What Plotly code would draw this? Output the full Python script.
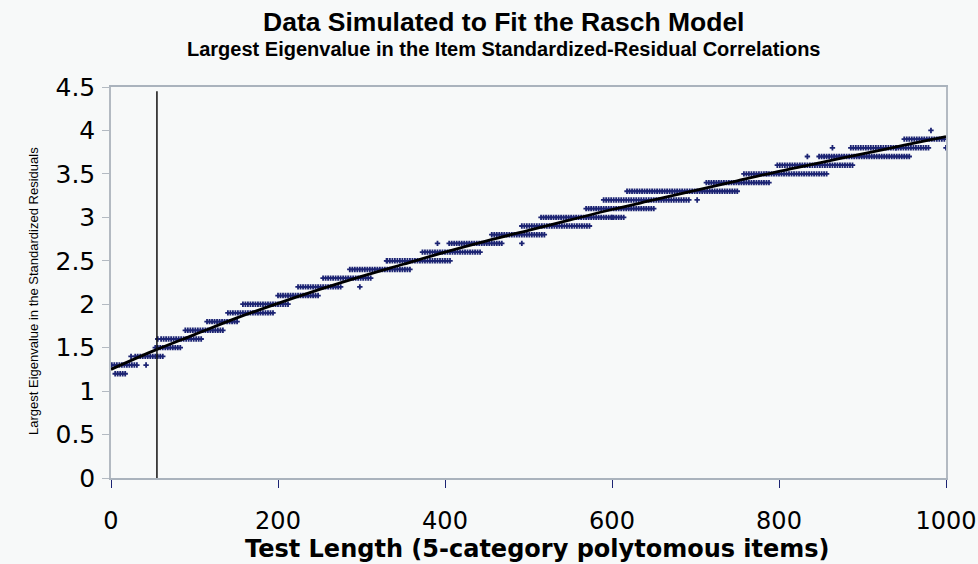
import numpy as np
import plotly.graph_objects as go

# Fitted curve
fit_x = [0, 50, 100, 150, 200, 250, 300, 350, 400, 450, 500, 550, 600, 650, 700, 750, 800, 850, 900, 950, 1000]
fit_y = [1.25, 1.46, 1.65, 1.84, 2.01, 2.17, 2.32, 2.46, 2.60, 2.73, 2.85, 2.97, 3.09, 3.20, 3.31, 3.42, 3.53, 3.63, 3.73, 3.83, 3.93]

# Simulated points (values rounded to 0.1): runs of points per level
band_y  = [1.2, 1.3, 1.4, 1.5, 1.6, 1.7, 1.8, 1.9, 2.0, 2.1, 2.2, 2.3, 2.4, 2.5, 2.6, 2.7, 2.8, 2.9, 3.0, 3.1, 3.2, 3.3, 3.4, 3.5, 3.6, 3.7, 3.8, 3.9]
band_x0 = [5,   1,   29,  53,  60,  89,  115, 140, 158, 200, 224, 254, 286, 331, 373, 405, 456, 492, 515, 569, 590, 618, 713, 758, 798, 848, 886, 950]
band_x1 = [19,  33,  62,  83,  109, 134, 152, 194, 214, 248, 276, 312, 358, 408, 444, 468, 519, 575, 615, 651, 693, 752, 790, 857, 890, 958, 980, 1000]

# Isolated points
out_x = [42, 24, 56, 298, 391, 492, 702, 834, 864, 982, 1000, 330, 600, 785, 940]
out_y = [1.3, 1.4, 1.6, 2.2, 2.7, 2.7, 3.2, 3.7, 3.8, 4.0, 3.8, 2.5, 3.0, 3.5, 3.8]

# Vertical reference line
vline_x = [55, 55]
vline_y = [0, 4.45]

pts_x, pts_y = [], []
for y, a, b in zip(band_y, band_x0, band_x1):
    xs = list(range(a, b + 1, 3))
    pts_x += xs
    pts_y += [y] * len(xs)
pts_x += out_x
pts_y += out_y

fig = go.Figure()
fig.add_trace(go.Scatter(x=pts_x, y=pts_y, mode="markers",
                         marker=dict(symbol="cross", size=4.5, color="#1c2473"),
                         showlegend=False, hoverinfo="skip"))
fig.add_trace(go.Scatter(x=fit_x, y=fit_y, mode="lines", line=dict(color="black", width=2.8, shape="spline"),
                         showlegend=False))
fig.add_trace(go.Scatter(x=vline_x, y=vline_y, mode="lines", line=dict(color="#111111", width=1.5),
                         showlegend=False))

lib = "Liberation Sans, Arial, sans-serif"
dej = "DejaVu Sans, sans-serif"

FW, FH = 978, 564
L, R, T, B = 111, 946, 87, 478   # plot area in figure pixels

fig.update_layout(
    width=FW, height=FH, autosize=False,
    margin=dict(l=L, r=FW - R, t=T, b=FH - B, autoexpand=False),
    paper_bgcolor="#f7f9f9", plot_bgcolor="#f7f9f9",
    font=dict(family=lib, color="black"),
    xaxis=dict(range=[0, 1000], dtick=200, tick0=0, showgrid=False, zeroline=False,
               showline=True, linecolor="#aab3bd", linewidth=2, mirror=True, automargin=False,
               ticks="outside", ticklen=8, tickcolor="#1c2473", tickwidth=1,
               tickfont=dict(size=24, family=dej), ticklabelstandoff=12),
    yaxis=dict(range=[0, 4.5], dtick=0.5, tick0=0, showgrid=False, zeroline=False,
               showline=True, linecolor="#b3bac2", linewidth=1.5, mirror=True, automargin=False,
               ticks="outside", ticklen=7, tickcolor="#b3bac2", tickwidth=1,
               tickfont=dict(size=25, family=dej), ticklabelstandoff=2),
)

def px(p):
    return (p - L) / (R - L)
def py(p):
    return (B - p) / (B - T)

fig.update_layout(annotations=[
    dict(text="<b>Data Simulated to Fit the Rasch Model</b>", xref="paper", yref="paper",
         x=px(503), y=py(22), xanchor="center", yanchor="middle", showarrow=False,
         font=dict(size=26.5, family=lib)),
    dict(text="<b>Largest Eigenvalue in the Item Standardized-Residual Correlations</b>", xref="paper", yref="paper",
         x=px(503), y=py(49), xanchor="center", yanchor="middle", showarrow=False,
         font=dict(size=20, family=lib)),
    dict(text="<b>Test Length (5-category polytomous items)</b>", xref="paper", yref="paper",
         x=px(537), y=py(549), xanchor="center", yanchor="middle", showarrow=False,
         font=dict(size=24, family=dej)),
    dict(text="Largest Eigenvalue in the Standardized Residuals", xref="paper", yref="paper",
         x=px(33), y=py(291), xanchor="center", yanchor="middle", textangle=-90, showarrow=False,
         font=dict(size=13, family=lib)),
])

fig.write_html("out.html",
               config={"responsive": False, "displayModeBar": False},
               post_script="document.body.style.margin='0px';document.body.style.overflow='hidden';")
